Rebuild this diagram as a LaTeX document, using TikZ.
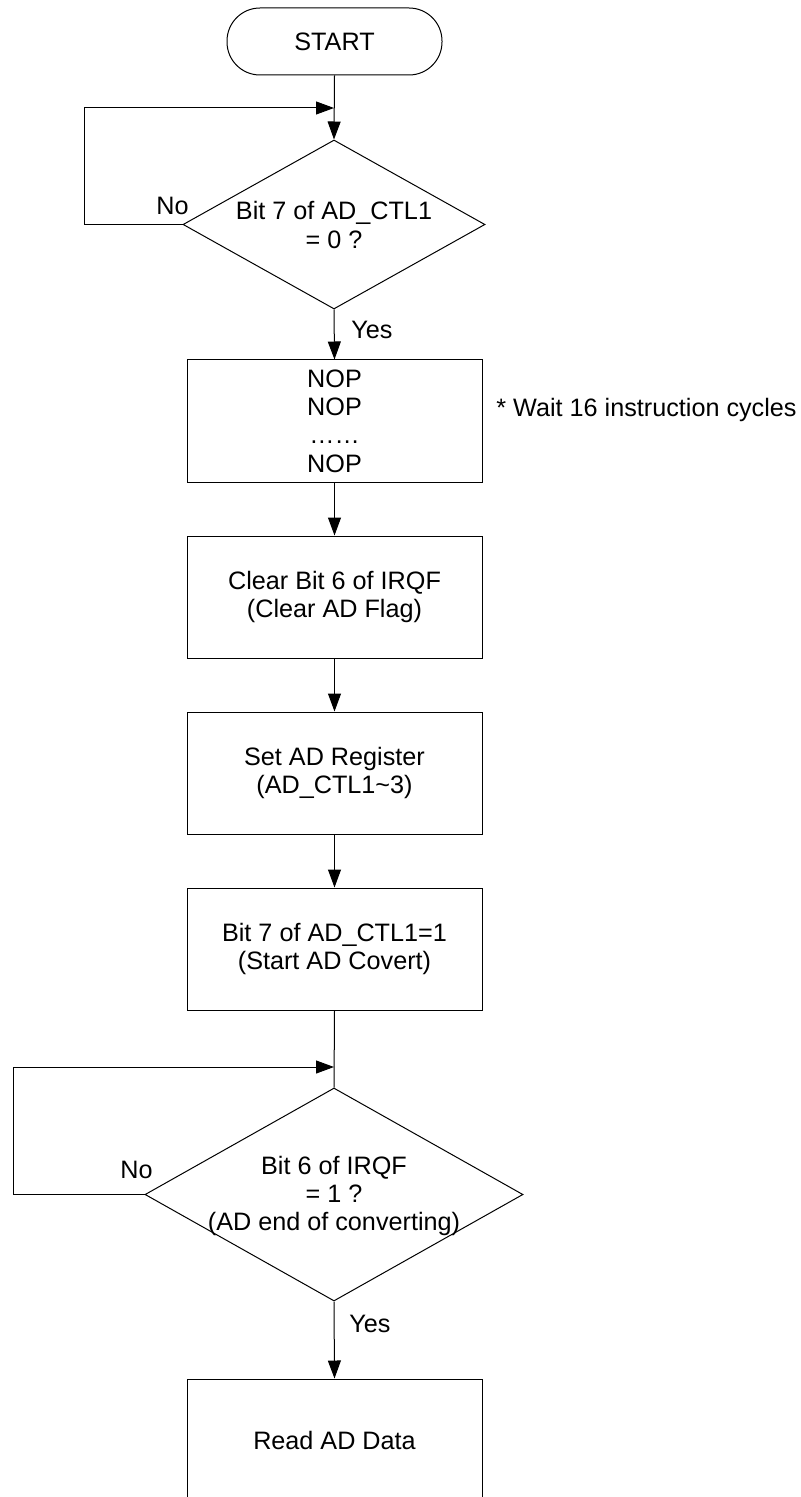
\documentclass[tikz,border=0pt]{standalone}
\usepackage{fontspec}
\setmainfont{Liberation Sans}
\usetikzlibrary{shapes.geometric,arrows.meta}
\tikzset{
  txt/.style={font=\fontsize{12.6}{14.2}\selectfont, inner sep=0pt},
  procbox/.style={txt, draw, line width=0.5pt, minimum width=147.5pt, minimum height=61pt, align=center},
  termbox/.style={txt, draw, line width=0.5pt, rounded corners=16.5pt, minimum width=107.5pt, minimum height=33.5pt},
  decbox/.style={draw, line width=0.5pt, diamond, inner sep=0pt, aspect=1.8},
  conn/.style={line width=0.5pt},
  arr/.style={conn, -{Triangle[length=9pt,width=6.5pt]}},
}
\begin{document}
\begin{tikzpicture}[x=0.5pt,y=-0.5pt]
\useasboundingbox (0,0) rectangle (800,1497);
% nodes
\node[termbox] (start) at (334.5,41.5) {START};
\coordinate (c1) at (334,108);
\coordinate (l1) at (84,108);
\node[decbox, minimum width=151pt, minimum height=84.5pt] (d1) at (334,224.5) {};
\node[txt, align=center] (d1t) at (334,225) {Bit 7 of AD\_CTL1\\= 0 ?};
\node[procbox] (nop) at (334.5,421) {NOP\\NOP\\……\\NOP};
\node[txt, anchor=base west] (wait) at (496,417) {* Wait 16 instruction cycles};
\node[procbox] (clr) at (334.5,597) {Clear Bit 6 of IRQF\\(Clear AD Flag)};
\node[procbox] (set) at (334.5,773) {Set AD Register\\(AD\_CTL1\textasciitilde 3)};
\node[procbox] (go) at (334.5,949) {Bit 7 of AD\_CTL1=1\\(Start AD Covert)};
\coordinate (c2) at (334,1067);
\coordinate (l2) at (13,1067);
\node[decbox, minimum width=189pt, minimum height=106.5pt] (d2) at (334,1194.5) {};
\node[txt, align=center] (d2t) at (334,1196) {Bit 6 of IRQF\\= 1 ?\\(AD end of converting)};
\node[procbox] (read) at (334.5,1440) {Read AD Data};
% labels
\node[txt, anchor=base west] (no1) at (156,215) {No};
\node[txt, anchor=base west] (yes1) at (351,339) {Yes};
\node[txt, anchor=base west] (no2) at (120,1178) {No};
\node[txt, anchor=base west] (yes2) at (349,1332) {Yes};
% connectors
\draw[arr] (start.south) -- (d1.north);
\draw[arr] (d1.west) -- (d1.west -| l1) -- (l1) -- (c1);
\draw[arr] (d1.south) -- (nop.north);
\draw[arr] (nop.south) -- (clr.north);
\draw[arr] (clr.south) -- (set.north);
\draw[arr] (set.south) -- (go.north);
\draw[conn] (go.south) -- (d2.north);
\draw[arr] (d2.west) -- (d2.west -| l2) -- (l2) -- (c2);
\draw[arr] (d2.south) -- (read.north);
\end{tikzpicture}
\end{document}
